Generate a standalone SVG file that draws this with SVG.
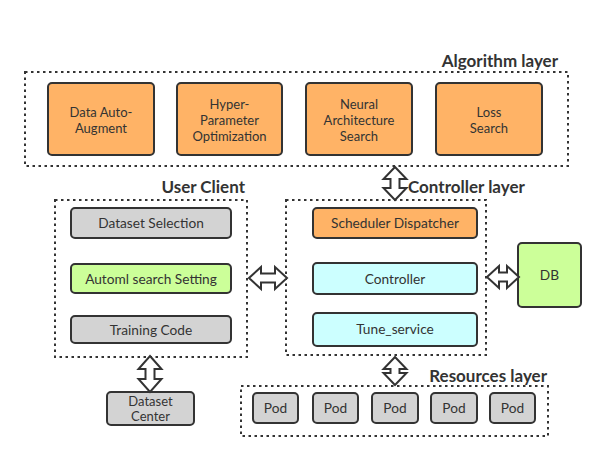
<svg xmlns="http://www.w3.org/2000/svg" width="605" height="461" viewBox="0 0 605 461">
<style>
.layer{fill:none;stroke:#333;stroke-width:2;stroke-dasharray:2.5 3.5}
.box{stroke:#333;stroke-width:2}
.or{fill:#FFB366}
.gr{fill:#D3D3D3}
.gn{fill:#CCFF99}
.cy{fill:#CCFFFF}
text{font-family:Lato,"Open Sans","Liberation Sans",sans-serif;fill:#333}
.t{font-size:13px;text-anchor:middle}
.s{font-size:13.7px}
.h{font-size:17px;font-weight:bold}
.arr{fill:#fff;stroke:#333;stroke-width:2;stroke-linejoin:miter}
</style>
<rect width="605" height="461" fill="#fff"/>
<g id="algorithm-layer">
<rect class="layer" x="25" y="72" width="543" height="94"/>
<text class="h" x="558" y="67" text-anchor="end">Algorithm layer</text>
</g>
<g id="data-auto-augment"><rect class="box or" x="48" y="83" width="106" height="72" rx="4"/><text class="t" x="101" y="117">Data Auto-</text><text class="t" x="101" y="133">Augment</text></g>
<g id="hpo"><rect class="box or" x="177" y="83" width="105" height="72" rx="4"/><text class="t" x="229.5" y="109">Hyper-</text><text class="t" x="229.5" y="125">Parameter</text><text class="t" x="229.5" y="141">Optimization</text></g>
<g id="nas"><rect class="box or" x="306" y="83" width="106" height="72" rx="4"/><text class="t" x="359" y="109">Neural</text><text class="t" x="359" y="125">Architecture</text><text class="t" x="359" y="141">Search</text></g>
<g id="loss-search"><rect class="box or" x="436" y="83" width="106" height="72" rx="4"/><text class="t" x="489" y="117">Loss</text><text class="t" x="489" y="133">Search</text></g>

<g id="user-client">
<rect class="layer" x="55" y="200" width="192" height="157"/>
<text class="h" x="245" y="193" text-anchor="end">User Client</text>
</g>
<g id="dataset-selection"><rect class="box gr" x="71" y="208" width="160" height="30" rx="4"/><text class="t s" x="151" y="228">Dataset Selection</text></g>
<g id="automl-setting"><rect class="box gn" x="71" y="264" width="160" height="29" rx="4"/><text class="t s" x="151" y="283.5">Automl search Setting</text></g>
<g id="training-code"><rect class="box gr" x="71" y="316" width="160" height="27" rx="4"/><text class="t s" x="151" y="334.5">Training Code</text></g>

<g id="controller-layer">
<rect class="layer" x="286" y="200" width="200" height="155"/>
<text class="h" x="408" y="193">Controller layer</text>
</g>
<g id="scheduler-dispatcher"><rect class="box or" x="313" y="208" width="164" height="30" rx="4"/><text class="t s" x="395" y="228">Scheduler Dispatcher</text></g>
<g id="controller"><rect class="box cy" x="313" y="263" width="164" height="31" rx="4"/><text class="t s" x="395" y="283.5">Controller</text></g>
<g id="tune-service"><rect class="box cy" x="313" y="313" width="164" height="33" rx="4"/><text class="t s" x="395" y="334">Tune_service</text></g>

<g id="db"><rect class="box gn" x="518" y="243" width="63" height="64" rx="4"/><text class="t s" x="549.5" y="280">DB</text></g>

<g id="dataset-center"><rect class="box gr" x="107" y="392" width="87" height="33" rx="4"/><text class="t" x="150.5" y="406">Dataset</text><text class="t" x="150.5" y="421">Center</text></g>

<g id="resources-layer">
<rect class="layer" x="241" y="386" width="307" height="50"/>
<text class="h" x="547" y="382" text-anchor="end">Resources layer</text>
</g>
<g id="pod1"><rect class="box gr" x="253" y="393" width="45" height="30" rx="4"/><text class="t s" x="275.5" y="413">Pod</text></g>
<g id="pod2"><rect class="box gr" x="313" y="393" width="45" height="30" rx="4"/><text class="t s" x="335.5" y="413">Pod</text></g>
<g id="pod3"><rect class="box gr" x="372" y="393" width="46" height="30" rx="4"/><text class="t s" x="395" y="413">Pod</text></g>
<g id="pod4"><rect class="box gr" x="431" y="393" width="46" height="30" rx="4"/><text class="t s" x="454" y="413">Pod</text></g>
<g id="pod5"><rect class="box gr" x="490" y="393" width="45" height="30" rx="4"/><text class="t s" x="512.5" y="413">Pod</text></g>

<g id="connectors">
<polygon class="arr" points="249,278 261,267 261,273.5 275,273.5 275,267 287,278 275,289 275,282.5 261,282.5 261,289"/>
<polygon class="arr" points="487,277 499,266 499,272.5 507,272.5 507,266 519,277 507,288 507,281.5 499,281.5 499,288"/>
<polygon class="arr" points="395,167 406.5,179 399.5,179 399.5,188 406.5,188 395,200 383.5,188 390.5,188 390.5,179 383.5,179"/>
<polygon class="arr" points="395,357 406.5,369 399.5,369 399.5,373 406.5,373 395,385 383.5,373 390.5,373 390.5,369 383.5,369"/>
<polygon class="arr" points="150,356 161.5,369 154.5,369 154.5,379 161.5,379 150,392 138.5,379 145.5,379 145.5,369 138.5,369"/>
</g>
</svg>
